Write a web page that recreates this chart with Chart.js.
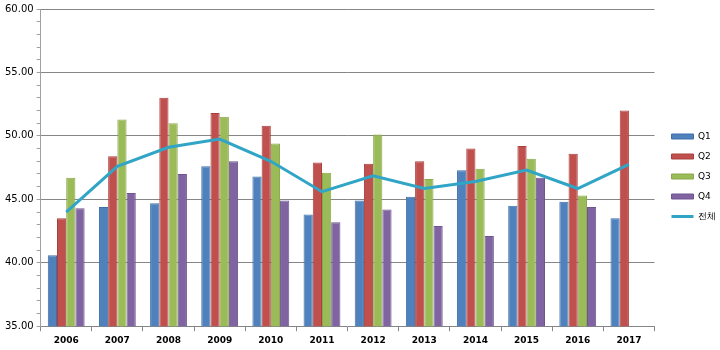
<!DOCTYPE html>
<html>
<head>
<meta charset="utf-8">
<script src="https://cdn.jsdelivr.net/npm/chart.js@4/dist/chart.umd.min.js"></script>
<style>
html,body{margin:0;padding:0;background:#fff;}
#wrap{width:720px;height:350px;position:relative;}
</style>
</head>
<body>
<div id="wrap"><canvas id="c" width="720" height="350"></canvas></div>
<script>
const years = ['2006','2007','2008','2009','2010','2011','2012','2013','2014','2015','2016','2017'];
const q1 = [40.6, 44.4, 44.7, 47.6, 46.8, 43.8, 44.9, 45.2, 47.3, 44.5, 44.8, 43.5];
const q2 = [43.5, 48.4, 53.0, 51.8, 50.8, 47.9, 47.8, 48.0, 49.0, 49.2, 48.6, 52.0];
const q3 = [46.7, 51.3, 51.0, 51.5, 49.4, 47.1, 50.1, 46.6, 47.4, 48.2, 45.3, null];
const q4 = [44.3, 45.5, 47.0, 48.0, 44.9, 43.2, 44.2, 42.9, 42.1, 46.7, 44.4, null];
const total = [44.0, 47.6, 49.1, 49.75, 48.0, 45.6, 46.85, 45.85, 46.4, 47.3, 45.85, 47.75];
const seriesNames = ['Q1','Q2','Q3','Q4','전체'];
const yMin = 35, yMax = 60, yMajor = 5;

const barColors = ['#4F81BD','#C0504D','#9BBB59','#8064A2'];
const barBorders = ['#3F6FA8','#A9403D','#88A849','#6E5590'];
const barData = [q1,q2,q3,q4];

const datasets = barData.map((d,i)=>({
  type:'bar', label:seriesNames[i], data:d,
  backgroundColor:barColors[i], borderColor:barBorders[i], borderWidth:1,
  pointStyle:'rect', order:2,
  categoryPercentage:0.72, barPercentage:1.0
}));
datasets.push({
  type:'line', label:seriesNames[4], data:total,
  borderColor:'#31A5C6', backgroundColor:'#31A5C6', borderWidth:3,
  pointRadius:0, pointHoverRadius:0, pointStyle:'line', tension:0, order:1
});

const shiftLegend = {
  id:'shiftLegend',
  afterLayout(chart){
    if (chart.legend){ chart.legend.left += 6; chart.legend.right += 6; }
  }
};

new Chart(document.getElementById('c'), {
  data:{labels:years, datasets},
  plugins:[shiftLegend],
  options:{
    responsive:false, animation:false,
    layout:{padding:{top:3,left:2,right:0,bottom:0}},
    plugins:{
      tooltip:{enabled:false},
      legend:{
        position:'right',
        labels:{
          usePointStyle:true, pointStyleWidth:22, boxHeight:5,
          sort:(a,b)=>a.datasetIndex-b.datasetIndex,
          font:{family:'DejaVu Sans', size:9}, color:'#000', padding:11
        }
      }
    },
    scales:{
      x:{
        grid:{drawOnChartArea:false, offset:true, color:'#868686', tickLength:5},
        border:{color:'#868686'},
        ticks:{font:{family:'DejaVu Sans', size:9, weight:'bold'}, color:'#000', padding:4, maxRotation:0}
      },
      y:{
        min:yMin, max:yMax,
        afterBuildTicks:(ax)=>{ const t=[]; for(let v=yMin; v<=yMax; v+=1) t.push({value:v}); ax.ticks=t; },
        grid:{
          color:(ctx)=> (ctx.tick && ctx.tick.value % yMajor === 0 && ctx.tick.value!==yMin) ? '#868686' : 'rgba(0,0,0,0)',
          tickColor:'#A0A0A0', tickLength:4, lineWidth:1
        },
        border:{color:'#A0A0A0'},
        ticks:{autoSkip:false, font:{family:'DejaVu Sans', size:10}, color:'#000', padding:3,
          callback:(v)=> v % yMajor === 0 ? Number(v).toFixed(2) : ''}
      }
    }
  }
});
</script>
</body>
</html>
